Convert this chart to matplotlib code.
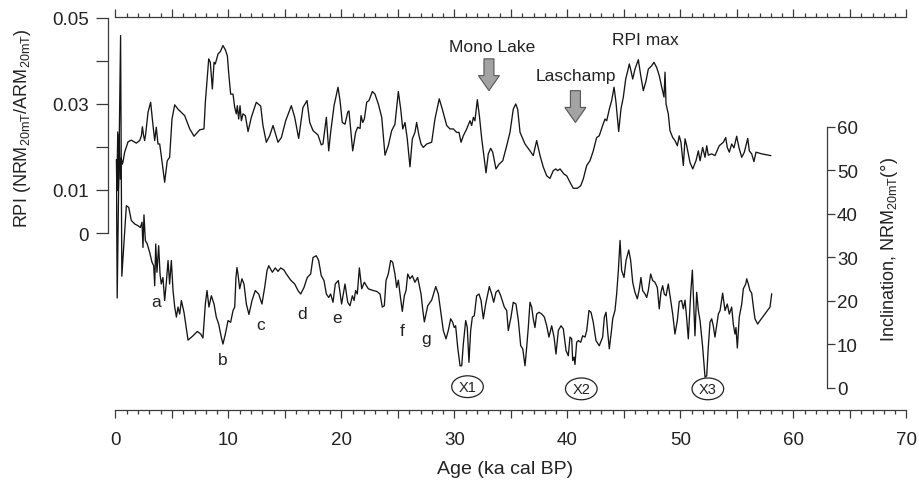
import matplotlib
matplotlib.use("Agg")
import matplotlib.pyplot as plt
from matplotlib.patches import FancyArrow, Ellipse
from matplotlib.ticker import MultipleLocator, FuncFormatter

plt.rcParams['font.family'] = ['Liberation Sans', 'DejaVu Sans']
plt.rcParams['mathtext.fontset'] = 'custom'
plt.rcParams['mathtext.rm'] = 'Liberation Sans'
plt.rcParams['mathtext.default'] = 'regular'

# relative paleointensity record (NRM20mT/ARM20mT) against age (ka cal BP)
rpi_age = [0.08, 0.12, 0.20, 0.26, 0.33, 0.42, 0.50, 0.60, 0.66, 0.81, 1.11, 1.40, 1.84, 2.14, 2.29, 2.38,
           2.49, 2.58, 2.67, 2.88, 3.11, 3.32, 3.47, 3.61, 3.76, 3.91, 4.05, 4.35, 4.58, 4.79, 5.00, 5.24,
           5.53, 6.12, 6.57, 6.95, 7.45, 7.83, 7.95, 8.25, 8.39, 8.57, 8.72, 8.83, 9.07, 9.28, 9.51, 9.72,
           9.90, 10.01, 10.19, 10.40, 10.55, 10.69, 10.78, 10.90, 11.02, 11.14, 11.28, 11.49, 11.73, 12.02,
           12.46, 12.85, 13.05, 13.35, 13.64, 13.94, 14.38, 14.68, 15.06, 15.56, 15.86, 16.21, 16.59, 16.95,
           17.19, 17.48, 17.92, 18.21, 18.36, 18.66, 18.87, 19.04, 19.34, 19.69, 19.87, 20.07, 20.31, 20.55,
           20.66, 20.81, 20.99, 21.25, 21.43, 21.64, 21.73, 21.88, 22.02, 22.23, 22.43, 22.73, 22.96, 23.26,
           23.56, 23.85, 24.14, 24.44, 24.73, 25.03, 25.24, 25.42, 25.62, 25.82, 26.06, 26.27, 26.50, 26.65,
           26.86, 27.04, 27.24, 27.54, 27.98, 28.27, 28.65, 28.92, 29.31, 29.60, 29.90, 30.19, 30.40, 30.58,
           30.78, 31.08, 31.37, 31.52, 31.67, 31.81, 32.02, 32.20, 32.41, 32.79, 32.99, 33.20, 33.38, 33.67,
           33.94, 34.27, 34.62, 34.91, 35.20, 35.42, 35.59, 35.80, 36.24, 36.68, 36.97, 37.27, 37.57, 37.86,
           38.16, 38.45, 38.74, 38.96, 39.13, 39.34, 39.69, 39.93, 40.22, 40.51, 40.87, 41.17, 41.40, 41.70,
           41.99, 42.28, 42.58, 42.81, 43.11, 43.32, 43.47, 43.70, 43.91, 44.12, 44.29, 44.53, 44.73, 44.94,
           45.15, 45.33, 45.47, 45.62, 45.77, 45.97, 46.27, 46.48, 46.71, 46.95, 47.15, 47.45, 47.65, 47.89,
           48.12, 48.34, 48.54, 48.63, 48.72, 48.92, 49.07, 49.31, 49.51, 49.72, 49.89, 50.04, 50.25, 50.40,
           50.55, 50.84, 51.08, 51.37, 51.58, 51.73, 51.96, 52.17, 52.32, 52.46, 52.76, 53.05, 53.43, 53.79,
           54.00, 54.14, 54.32, 54.53, 54.73, 54.97, 55.18, 55.42, 55.65, 55.95, 56.09, 56.30, 56.50, 56.68,
           57.19, 57.98]
rpi = [0.0170, 0.0098, 0.0235, 0.0105, 0.0230, 0.0125, 0.0175, 0.0160, 0.0165, 0.0188, 0.0212, 0.0216,
       0.0209, 0.0215, 0.0226, 0.0247, 0.0226, 0.0215, 0.0230, 0.0281, 0.0304, 0.0250, 0.0215, 0.0246,
       0.0207, 0.0207, 0.0180, 0.0118, 0.0168, 0.0176, 0.0265, 0.0298, 0.0288, 0.0273, 0.0242, 0.0225,
       0.0240, 0.0242, 0.0304, 0.0405, 0.0397, 0.0335, 0.0397, 0.0393, 0.0416, 0.0422, 0.0436, 0.0426,
       0.0412, 0.0374, 0.0323, 0.0323, 0.0292, 0.0277, 0.0296, 0.0265, 0.0296, 0.0261, 0.0277, 0.0273,
       0.0236, 0.0269, 0.0304, 0.0295, 0.0250, 0.0211, 0.0226, 0.0250, 0.0211, 0.0222, 0.0261, 0.0296,
       0.0269, 0.0220, 0.0292, 0.0308, 0.0257, 0.0238, 0.0228, 0.0205, 0.0207, 0.0269, 0.0191, 0.0234,
       0.0296, 0.0339, 0.0308, 0.0257, 0.0253, 0.0281, 0.0284, 0.0242, 0.0191, 0.0234, 0.0246, 0.0243,
       0.0273, 0.0257, 0.0265, 0.0304, 0.0308, 0.0329, 0.0323, 0.0300, 0.0269, 0.0181, 0.0203, 0.0238,
       0.0253, 0.0329, 0.0288, 0.0242, 0.0257, 0.0219, 0.0154, 0.0219, 0.0234, 0.0257, 0.0226, 0.0207,
       0.0199, 0.0207, 0.0211, 0.0265, 0.0312, 0.0288, 0.0250, 0.0242, 0.0242, 0.0234, 0.0234, 0.0211,
       0.0226, 0.0242, 0.0261, 0.0250, 0.0269, 0.0261, 0.0310, 0.0273, 0.0219, 0.0140, 0.0184, 0.0197,
       0.0188, 0.0149, 0.0160, 0.0168, 0.0203, 0.0234, 0.0288, 0.0300, 0.0288, 0.0234, 0.0207, 0.0191,
       0.0180, 0.0215, 0.0180, 0.0153, 0.0133, 0.0127, 0.0145, 0.0149, 0.0145, 0.0149, 0.0137, 0.0133,
       0.0118, 0.0104, 0.0104, 0.0110, 0.0126, 0.0157, 0.0168, 0.0191, 0.0222, 0.0226, 0.0250, 0.0265,
       0.0261, 0.0288, 0.0308, 0.0339, 0.0304, 0.0236, 0.0288, 0.0316, 0.0358, 0.0377, 0.0393, 0.0377,
       0.0358, 0.0381, 0.0403, 0.0366, 0.0331, 0.0354, 0.0381, 0.0389, 0.0397, 0.0385, 0.0366, 0.0339,
       0.0316, 0.0374, 0.0300, 0.0277, 0.0238, 0.0222, 0.0215, 0.0203, 0.0226, 0.0211, 0.0157, 0.0219,
       0.0203, 0.0164, 0.0149, 0.0168, 0.0191, 0.0168, 0.0199, 0.0176, 0.0203, 0.0181, 0.0184, 0.0180,
       0.0203, 0.0211, 0.0222, 0.0199, 0.0188, 0.0207, 0.0198, 0.0225, 0.0198, 0.0176, 0.0188, 0.0220,
       0.0191, 0.0184, 0.0166, 0.0188, 0.0184, 0.0180]

# inclination of NRM after 20 mT demagnetisation (degrees)
inc_age = [0.08, 0.15, 0.45, 0.56, 0.96, 1.17, 1.40, 1.70, 1.99, 2.20, 2.35, 2.43, 2.52, 2.64, 2.81, 3.02,
           3.23, 3.38, 3.47, 3.56, 3.67, 3.82, 3.94, 4.05, 4.20, 4.35, 4.50, 4.65, 4.79, 4.94, 5.09, 5.24,
           5.39, 5.53, 5.68, 5.83, 6.06, 6.42, 6.86, 7.24, 7.54, 7.74, 7.95, 8.10, 8.27, 8.48, 8.72, 8.92,
           9.13, 9.36, 9.51, 9.72, 9.96, 10.19, 10.40, 10.55, 10.66, 10.75, 10.84, 10.99, 11.19, 11.37,
           11.58, 11.81, 12.08, 12.37, 12.67, 12.96, 13.20, 13.41, 13.56, 13.88, 14.14, 14.38, 14.62, 14.91,
           15.12, 15.50, 15.86, 16.15, 16.39, 16.68, 16.97, 17.27, 17.48, 17.77, 17.98, 18.21, 18.45, 18.66,
           18.87, 19.04, 19.25, 19.45, 19.72, 20.01, 20.31, 20.55, 20.75, 20.96, 21.11, 21.25, 21.40, 21.58,
           21.79, 22.02, 22.37, 22.81, 23.12, 23.41, 23.61, 23.79, 23.94, 24.14, 24.35, 24.53, 24.73, 24.88,
           25.03, 25.18, 25.38, 25.56, 25.71, 25.86, 26.06, 26.27, 26.50, 26.74, 27.04, 27.18, 27.33, 27.63,
           27.98, 28.34, 28.57, 28.81, 29.01, 29.25, 29.45, 29.66, 29.84, 29.98, 30.10, 30.28, 30.49, 30.64,
           30.78, 30.99, 31.13, 31.28, 31.43, 31.58, 31.75, 31.96, 32.17, 32.35, 32.55, 32.76, 33.08, 33.29,
           33.47, 33.67, 33.88, 34.09, 34.41, 34.62, 34.76, 35.00, 35.20, 35.44, 35.65, 35.86, 36.04, 36.24,
           36.39, 36.53, 36.68, 36.83, 36.97, 37.12, 37.27, 37.48, 37.72, 37.95, 38.16, 38.36, 38.60, 38.81,
           38.98, 39.19, 39.42, 39.63, 39.87, 40.07, 40.22, 40.37, 40.46, 40.58, 40.66, 40.81, 40.96, 41.17,
           41.34, 41.55, 41.70, 41.90, 42.08, 42.28, 42.52, 42.81, 43.11, 43.26, 43.41, 43.56, 43.70, 43.91,
           44.00, 44.20, 44.35, 44.50, 44.65, 44.79, 45.00, 45.18, 45.42, 45.59, 45.77, 45.97, 46.18, 46.36,
           46.50, 46.65, 46.86, 47.01, 47.15, 47.36, 47.54, 47.74, 47.95, 48.12, 48.27, 48.42, 48.57, 48.72,
           48.92, 49.13, 49.31, 49.51, 49.72, 49.89, 50.10, 50.25, 50.40, 50.55, 50.69, 50.90, 51.05, 51.17,
           51.28, 51.43, 51.58, 51.73, 51.96, 52.17, 52.32, 52.46, 52.61, 52.76, 52.90, 53.05, 53.20, 53.35,
           53.50, 53.73, 53.94, 54.14, 54.32, 54.53, 54.67, 54.82, 54.91, 55.03, 55.20, 55.42, 55.56, 55.77,
           55.86, 56.00, 56.15, 56.30, 56.45, 56.59, 56.83, 57.04, 57.92, 58.07]
inc = [50.0, 20.7, 81.0, 25.7, 41.9, 41.5, 38.5, 37.7, 37.3, 36.9, 38.1, 32.3, 39.8, 33.9, 33.1, 31.2,
       28.9, 28.1, 23.5, 33.1, 26.6, 32.7, 26.2, 23.9, 25.4, 20.1, 24.3, 29.3, 23.9, 29.3, 22.4, 18.6,
       16.3, 18.6, 17.0, 20.1, 17.4, 11.0, 12.0, 13.0, 12.4, 11.5, 19.3, 22.4, 18.6, 21.2, 19.3, 16.3,
       14.7, 11.7, 10.1, 12.4, 15.5, 15.1, 17.8, 18.6, 25.4, 27.7, 26.2, 22.8, 25.1, 23.9,
       19.3, 16.9, 20.1, 22.4, 21.6, 19.3, 23.1, 27.0, 28.1, 26.6, 27.6, 26.8, 27.6, 27.1,
       26.2, 24.8, 23.9, 22.4, 21.6, 23.1, 25.4, 26.2, 30.0, 30.4, 29.3, 25.8, 24.7, 21.6,
       20.8, 21.6, 19.7, 23.9, 24.7, 19.3, 23.9, 19.7, 18.9, 21.2, 20.1, 22.4, 21.6, 27.6,
       22.8, 24.3, 22.8, 22.4, 22.2, 21.6, 18.6, 18.9, 24.7, 26.2, 29.3, 28.9, 26.2, 23.1,
       24.8, 21.6, 17.6, 21.2, 22.4, 26.2, 25.1, 25.8, 24.3, 25.4, 21.6, 18.2, 15.2, 18.9,
       20.2, 23.3, 21.6, 17.0, 13.2, 11.3, 13.2, 15.9, 15.1, 13.9, 14.3, 9.4, 5.1, 5.1,
       10.1, 15.5, 13.9, 5.9, 13.2, 16.3, 16.6, 21.2, 21.6, 20.1, 15.9, 19.3, 23.3, 21.6,
       19.7, 22.0, 22.5, 21.2, 18.6, 17.8, 13.2, 16.3, 19.7, 19.3, 15.5, 9.7, 9.0, 5.1,
       9.4, 13.9, 19.7, 18.6, 15.9, 13.9, 17.0, 17.4, 17.0, 16.3, 14.3, 11.7, 14.3, 11.7,
       7.8, 13.2, 14.3, 13.6, 8.6, 7.4, 11.7, 11.3, 6.3, 7.1, 5.4, 10.5, 10.9, 10.5,
       12.0, 11.7, 13.2, 17.8, 17.4, 15.1, 10.9, 9.7, 11.7, 16.3, 17.4, 12.8, 9.0, 13.6,
       15.9, 17.8, 21.6, 27.0, 33.9, 27.0, 25.4, 29.3, 31.7, 29.3, 24.3, 22.0, 20.5, 22.8,
       25.4, 22.4, 21.6, 20.8, 22.4, 26.2, 24.7, 24.3, 23.1, 18.2, 22.0, 23.5, 21.6, 21.2,
       23.9, 20.1, 17.0, 12.4, 15.5, 19.9, 20.1, 18.2, 20.2, 15.9, 11.3, 21.6, 27.1, 19.3,
       12.0, 22.0, 17.8, 15.5, 9.4, 2.5, 2.8, 9.4, 15.1, 15.9, 14.3, 11.7, 14.3, 17.0,
       17.8, 21.8, 17.8, 19.3, 17.0, 18.6, 14.7, 12.4, 13.9, 9.2, 16.3, 19.3, 22.8, 23.9,
       25.1, 23.9, 22.4, 21.8, 18.6, 15.9, 14.7, 15.5, 18.6, 21.6]

# inclination lows a-g and excursions X1-X3
low_labels = ['a', 'b', 'c', 'd', 'e', 'f', 'g']
low_pos = [(3.61, 19.9), (9.51, 6.6), (12.82, 14.6), (16.53, 17.2), (19.57, 16.3), (25.38, 13.3),
           (27.45, 11.3)]
excursions = ['X1', 'X2', 'X3']
excursion_pos = [(31.15, 0.3), (41.22, -0.2), (52.42, -0.2)]

ink = '#151515'
axis_col = '#3a3a3a'
txt_col = '#222222'

fig = plt.figure(figsize=(9.2, 4.81), dpi=100)
ax = fig.add_axes([115.5 / 920, 70.3 / 481, 791 / 920, 392.4 / 481])
ax.set_xlim(0, 70)
ax.set_ylim(-0.04109, 0.05016)
ax.patch.set_alpha(0)

ax.plot(rpi_age, rpi, color=ink, lw=0.95)

ax.spines['right'].set_visible(False)
ax.spines['left'].set_bounds(0, 0.05)
ax.spines['left'].set_position(('outward', 5.4))
for s in ['left', 'top', 'bottom']:
    ax.spines[s].set_color(axis_col)
    ax.spines[s].set_linewidth(0.9)

ax.xaxis.set_major_locator(MultipleLocator(5))
ax.xaxis.set_minor_locator(MultipleLocator(1))
ax.xaxis.set_major_formatter(FuncFormatter(lambda v, p: f'{v:.0f}' if v % 10 == 0 else ''))
ax.tick_params(axis='x', which='both', top=True, bottom=True, direction='out',
               colors=axis_col, labelcolor=txt_col, labelsize=13.5, pad=10, width=0.9)
ax.tick_params(axis='x', which='major', length=5.5)
ax.tick_params(axis='x', which='minor', length=3)

ax.set_yticks([0, 0.01, 0.02, 0.03, 0.04, 0.05])
ax.set_yticklabels(['0', '0.01', '', '0.03', '', '0.05'])
ax.tick_params(axis='y', length=8.6, width=0.9, colors=axis_col, labelcolor=txt_col,
               labelsize=13.5, pad=5)

# inclination on the twin axis
ax2 = ax.twinx()
ax2.set_ylim(-4.99, 85.2)
ax2.plot(inc_age, inc, color=ink, lw=0.95)
for s in ['left', 'top', 'bottom']:
    ax2.spines[s].set_visible(False)
ax2.spines['right'].set_bounds(0, 60)
ax2.spines['right'].set_position(('axes', 0.899))
ax2.spines['right'].set_color(axis_col)
ax2.spines['right'].set_linewidth(0.9)
ax2.set_yticks(range(0, 61, 10))
ax2.tick_params(axis='y', length=6, width=0.9, colors=axis_col, labelcolor=txt_col,
                labelsize=13.5, pad=1.5)

for lab, (x, y) in zip(low_labels, low_pos):
    ax2.text(x, y, lab, ha='center', va='center', fontsize=12.5, color=txt_col)

for lab, (x, y) in zip(excursions, excursion_pos):
    ax2.add_patch(Ellipse((x, y), 2.8, 5.0, fill=False, ec=txt_col, lw=0.9))
    ax2.text(x, y, lab, ha='center', va='center', fontsize=10.5, color=txt_col)

# geomagnetic event markers
ax.text(33.3, 0.0433, 'Mono Lake', ha='center', va='center', fontsize=12.5, color=txt_col)
ax.text(40.75, 0.0367, 'Laschamp', ha='center', va='center', fontsize=12.5, color=txt_col)
ax.text(46.9, 0.0451, 'RPI max', ha='center', va='center', fontsize=12.5, color=txt_col)
for x, top, tip in [(33.05, 0.0405, 0.0331), (40.7, 0.0331, 0.0257)]:
    ax.add_patch(FancyArrow(x, top, 0, tip - top, width=0.885, head_width=1.86,
                            head_length=0.0035, length_includes_head=True,
                            fc='#a3a3a3', ec='#555555', lw=0.8))

fig.text(23 / 920, 1 - 128 / 481, 'RPI (NRM$_{20mT}$/ARM$_{20mT}$)', rotation=90,
         ha='center', va='center', fontsize=13, color=txt_col)
fig.text(890 / 920, 1 - 249 / 481, 'Inclination, NRM$_{20mT}$(°)', rotation=90,
         ha='center', va='center', fontsize=13, color=txt_col)
fig.text(505 / 920, 1 - 470 / 481, 'Age (ka cal BP)', ha='center', va='center',
         fontsize=14, color=txt_col)

fig.savefig('out.png', dpi=100)
